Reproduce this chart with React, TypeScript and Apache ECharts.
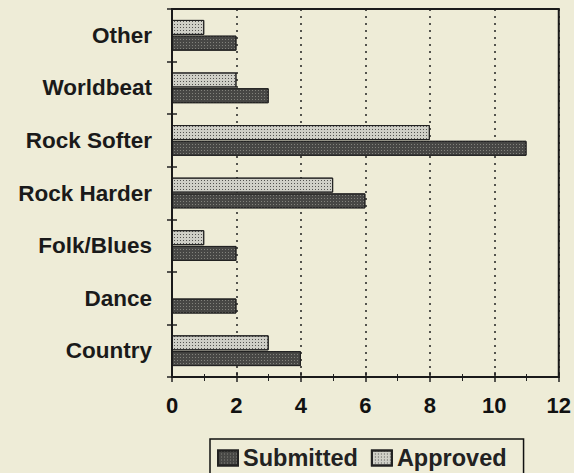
import React, { useEffect, useRef } from "react";
import * as echarts from "echarts";

const categories = ["Country", "Dance", "Folk/Blues", "Rock Harder", "Rock Softer", "Worldbeat", "Other"];
const submitted = [4, 2, 2, 6, 11, 3, 2];
const approved = [3, 0, 1, 5, 8, 2, 1];
const xTicks = [0, 2, 4, 6, 8, 10, 12];

export default function App() {
  const ref = useRef<HTMLDivElement>(null);
  useEffect(() => {
    if (!ref.current) return;
    const chart = echarts.init(ref.current, null, { renderer: "svg" });
    const font = "'Liberation Sans', Arial, sans-serif";
    const ink = "#222";
    chart.setOption({
      animation: false,
      backgroundColor: "#eeecd7",
      textStyle: { fontFamily: font },
      grid: {
        left: 172,
        right: 8,
        top: 9,
        bottom: 96,
        show: true,
        backgroundColor: "transparent",
        borderColor: "#1a1a1a",
        borderWidth: 2,
        z: 5,
      },
      legend: {
        left: 210,
        top: 439,
        icon: "rect",
        itemWidth: 20,
        itemHeight: 15,
        itemGap: 13,
        borderColor: "#111",
        borderWidth: 1.5,
        padding: [7, 17, 10, 7],
        textStyle: { fontSize: 23.5, fontWeight: "bold", color: "#222", fontFamily: font },
        data: ["Submitted", "Approved"],
      },
      xAxis: [
        {
          type: "value",
          min: 0,
          max: 12,
          interval: 2,
          axisLine: { show: true, lineStyle: { color: ink, width: 1.5 } },
          axisTick: { show: true, length: 5, lineStyle: { color: ink, width: 1.5 } },
          minorTick: { show: true, splitNumber: 2, length: 4, lineStyle: { color: ink, width: 1 } },
          axisLabel: {
            fontSize: 22,
            fontWeight: "bold",
            color: "#111",
            margin: 17,
            formatter: (v: number) => (xTicks.includes(v) ? String(v) : ""),
          },
          splitLine: { show: true, lineStyle: { color: ink, width: 1.5, type: [2, 5] } },
        },
        {
          type: "value",
          position: "bottom",
          min: 0,
          max: 12,
          interval: 2,
          axisLine: { show: false },
          axisTick: { show: true, inside: true, length: 5, lineStyle: { color: ink, width: 1.5 } },
          minorTick: { show: true, splitNumber: 2, length: 3, lineStyle: { color: ink, width: 1 } },
          axisLabel: { show: false },
          splitLine: { show: false },
        },
      ],
      yAxis: [
        {
          type: "category",
          data: categories,
          axisLine: { show: true, lineStyle: { color: ink, width: 1.5 } },
          axisTick: { show: true, length: 5, lineStyle: { color: ink, width: 1.5 } },
          axisLabel: { fontSize: 22.5, fontWeight: "bold", color: "#1a1a1a", margin: 20 },
          splitLine: { show: false },
        },
        {
          type: "category",
          position: "left",
          data: categories,
          axisLine: { show: false },
          axisTick: { show: true, inside: true, length: 5, lineStyle: { color: ink, width: 1.5 } },
          axisLabel: { show: false },
          splitLine: { show: false },
        },
      ],
      series: [
        {
          name: "Approved",
          type: "bar",
          data: approved,
          barWidth: 15,
          barGap: "5%",
          itemStyle: {
            color: "#cfcfc7",
            borderColor: ink,
            borderWidth: 1,
            decal: {
              symbol: "rect",
              symbolSize: 1,
              dashArrayX: [1, 2],
              dashArrayY: [1, 2],
              color: "rgba(30,30,30,0.7)",
            },
          },
        },
        {
          name: "Submitted",
          type: "bar",
          data: submitted,
          barWidth: 15,
          barGap: "5%",
          itemStyle: {
            color: "#474745",
            borderColor: ink,
            borderWidth: 1,
            decal: {
              symbol: "rect",
              symbolSize: 1,
              dashArrayX: [1, 2],
              dashArrayY: [1, 2],
              color: "rgba(190,190,180,0.5)",
            },
          },
        },
      ],
    });
    return () => chart.dispose();
  }, []);
  return (
    <div
      ref={ref}
      style={{ position: "fixed", left: 0, top: 0, width: 574, height: 473 }}
    />
  );
}
